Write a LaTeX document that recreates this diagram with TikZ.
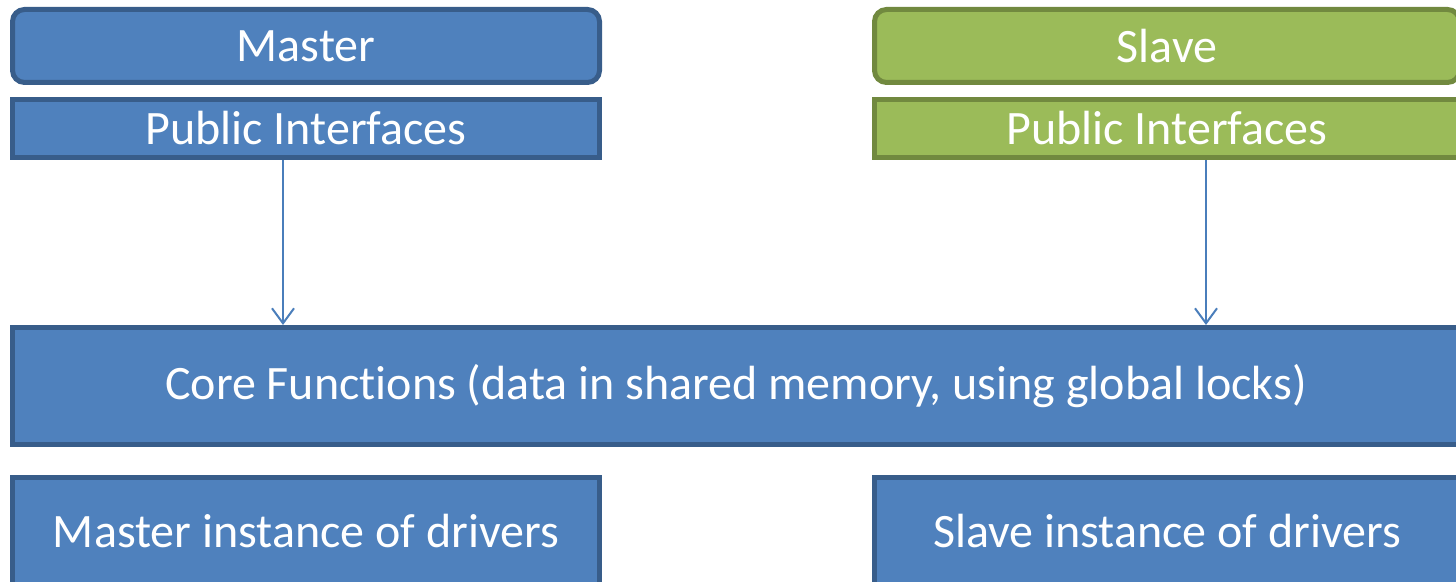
\documentclass[tikz,border=0pt]{standalone}
\usepackage{fontspec}
\setmainfont{Carlito}[Ligatures=NoCommon]
\usetikzlibrary{arrows.meta}
\definecolor{bfill}{HTML}{4F81BD}
\definecolor{bline}{HTML}{385D8A}
\definecolor{gfill}{HTML}{9BBB59}
\definecolor{gline}{HTML}{71893F}
\definecolor{arrc}{HTML}{4A7EBB}
\tikzset{
  box/.style={draw=bline, fill=bfill, line width=5pt, text=white, inner sep=0pt,
    font=\fontsize{48}{56}\selectfont, anchor=center},
  gbox/.style={box, draw=gline, fill=gfill},
  arr/.style={draw=arrc, line width=2pt, -{Straight Barb[length=15pt,width=22pt,line width=2pt]}}
}
\begin{document}
\begin{tikzpicture}[x=1pt,y=1pt]
\useasboundingbox (0,0) rectangle (1456,581);
\clip (0,0) rectangle (1456,581);
\node[box, rounded corners=12pt, minimum width=587pt, minimum height=73pt] (master) at (306,535) {Master};
\node[box, minimum width=587pt, minimum height=58pt] (pubm) at (306,452.5) {Public Interfaces};
\node[gbox, rounded corners=12pt, minimum width=585pt, minimum height=73pt] (slave) at (1167,535) {Slave};
\node[gbox, minimum width=585pt, minimum height=58pt] (pubs) at (1167,452.5) {Public Interfaces};
\node[box, minimum width=1447pt, minimum height=117pt] (core) at (736,195) {Core Functions (data in shared memory, using global locks)};
\node[box, minimum width=587pt, minimum height=107pt] (minst) at (306,50) {Master instance of drivers};
\node[box, minimum width=585pt, minimum height=107pt] (sinst) at (1167,50) {Slave instance of drivers};
\coordinate (al) at (283,300);
\coordinate (ar) at (1206,300);
\draw[arr] (pubm.south -| al) -- (core.north -| al);
\draw[arr] (pubs.south -| ar) -- (core.north -| ar);
\end{tikzpicture}
\end{document}
